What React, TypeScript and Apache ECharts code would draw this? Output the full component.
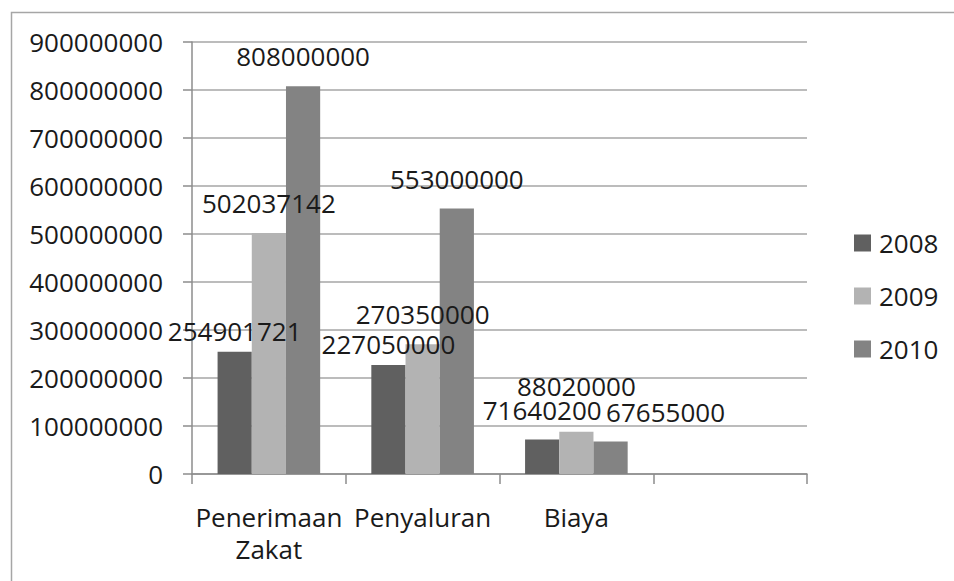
import React, { useEffect, useRef } from "react";
import * as echarts from "echarts";

const categories = ["Penerimaan Zakat", "Penyaluran", "Biaya", ""];
const seriesNames = ["2008", "2009", "2010"];
const values2008 = [254901721, 227050000, 71640200, null];
const values2009 = [502037142, 270350000, 88020000, null];
const values2010 = [808000000, 553000000, 67655000, null];
const yTicks = { min: 0, max: 900000000, interval: 100000000 };
const colors = ["#606060", "#b3b3b3", "#838383"];

// label nudges (Excel moved a few overlapping labels)
const labelNudges: Record<string, [number, number]> = {
  "0-0": [0, 9],
  "0-1": [0, 9],
  "1-2": [0, -16],
  "2-2": [55, 0],
};

const FONT = "'Open Sans', 'Noto Sans', sans-serif";
const TEXT = "#1a1a1a";

export default function App() {
  const ref = useRef<HTMLDivElement>(null);
  useEffect(() => {
    if (!ref.current) return;
    const chart = echarts.init(ref.current, undefined, { renderer: "svg" });
    const all = [values2008, values2009, values2010];
    const series = all.map((vals, si) => ({
      name: seriesNames[si],
      type: "bar",
      barWidth: 34.2,
      barGap: "0%",
      itemStyle: { color: colors[si] },
      label: {
        show: true,
        position: "top",
        distance: 17,
        fontFamily: FONT,
        fontSize: 26,
        lineHeight: 26,
        color: TEXT,
        formatter: "{c}",
      },
      data: vals.map((v, ci) => {
        const n = labelNudges[`${si}-${ci}`];
        return n ? { value: v, label: { offset: n } } : v;
      }),
    }));
    chart.setOption({
      animation: false,
      textStyle: { fontFamily: FONT },
      graphic: [
        {
          type: "rect",
          left: 9,
          top: 10,
          shape: { width: 1000, height: 1000 },
          style: { fill: "none", stroke: "#a6a6a6", lineWidth: 1.5 },
          silent: true,
        },
      ],
      grid: { left: 192, right: 147, top: 42, bottom: 107, containLabel: false },
      legend: {
        orient: "vertical",
        left: 854,
        top: 230,
        padding: 0,
        itemWidth: 17,
        itemHeight: 17,
        itemGap: 27,
        icon: "rect",
        data: seriesNames,
        textStyle: {
          fontFamily: FONT,
          fontSize: 26,
          lineHeight: 26,
          color: TEXT,
          padding: [0, 0, 0, 3],
        },
      },
      xAxis: {
        type: "category",
        data: categories,
        axisLine: { lineStyle: { color: "#8c8c8c", width: 1.5 } },
        axisTick: { show: true, length: 10, alignWithLabel: false, lineStyle: { color: "#8c8c8c", width: 1.5 } },
        axisLabel: {
          interval: 0,
          margin: 27,
          fontFamily: FONT,
          fontSize: 26,
          lineHeight: 32,
          color: TEXT,
          formatter: (v: string) => v.replace(" ", "\n"),
        },
        splitLine: { show: false },
      },
      yAxis: {
        type: "value",
        min: yTicks.min,
        max: yTicks.max,
        interval: yTicks.interval,
        axisLine: { show: true, lineStyle: { color: "#8c8c8c", width: 1.5 } },
        axisTick: { show: true, length: 9, lineStyle: { color: "#8c8c8c", width: 1.5 } },
        axisLabel: {
          margin: 29,
          fontFamily: FONT,
          fontSize: 26,
          color: TEXT,
          formatter: (v: number) => String(v),
        },
        splitLine: { show: true, lineStyle: { color: "#a6a6a6", width: 1.5 } },
      },
      series,
    });
    return () => chart.dispose();
  }, []);
  return (
    <div
      ref={ref}
      style={{ position: "absolute", left: 0, top: 0, width: 954, height: 581, background: "#fff" }}
    />
  );
}
